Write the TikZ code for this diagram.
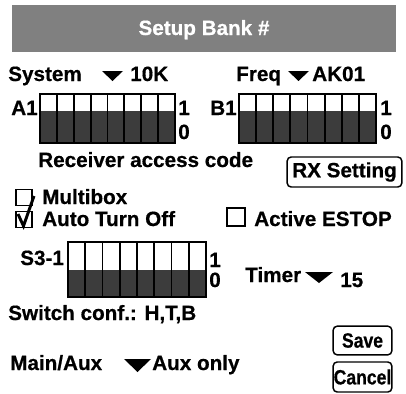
\documentclass[tikz,border=0pt]{standalone}
\usepackage{fontspec}
\setmainfont{Liberation Sans}[BoldFeatures={FakeBold=0.6}]
\newfontfamily\narrowfont{Liberation Sans}[FakeStretch=0.85, BoldFeatures={FakeBold=0.6}]
\usetikzlibrary{positioning}
\definecolor{titlegray}{HTML}{808080}
\definecolor{switchdark}{HTML}{3C3C3C}
\tikzset{
    txt/.style={font=\bfseries\fontsize{15.5}{18}\selectfont, inner sep=0pt, anchor=base west},
    button/.style={draw, rounded corners=3pt, line width=1.1pt, inner sep=0pt},
    checkbox/.style={draw, line width=0.9pt, inner sep=0pt},
    dropdown/.style={fill=black}
}
% x0, x1, top, split, bottom
\newcommand{\dipbank}[5]{%
    \foreach \i in {0,...,7} {
        \pgfmathsetmacro{\xa}{#1+\i*(#2-#1)/8}
        \pgfmathsetmacro{\xb}{#1+(\i+1)*(#2-#1)/8}
        \fill[white] (\xa,#3) rectangle (\xb,#4);
        \fill[switchdark] (\xa,#4) rectangle (\xb,#5);
        \draw[line width=1.4pt] (\xa,#3) rectangle (\xb,#5);
    }
}

\begin{document}
\begin{tikzpicture}[x=0.75pt, y=-0.75pt]
    \useasboundingbox (0,0) rectangle (406,393);
    % Title bar
    \fill[titlegray] (12,5) rectangle (396,52);
    \node[txt, anchor=base, text=white] (title) at (204,35) {Setup Bank \#};
    % System and frequency
    \node[txt] (system) at (8,81) {System};
    \fill[dropdown] (102,71) -- (123,71) -- (112.5,81) -- cycle;
    \node[txt] (sysval) at (130,81) {10K};
    \node[txt] (freq) at (236,81) {Freq};
    \fill[dropdown] (288,71) -- (309,71) -- (298.5,81) -- cycle;
    \node[txt] (freqval) at (312,81) {AK01};
    % Access code switches
    \node[txt] (a1) at (11,115) {A1};
    \dipbank{40}{175}{94}{111}{143}
    \node[txt] (a1on) at (178,115) {1};
    \node[txt] (a1off) at (178,139) {0};
    \node[txt] (b1) at (210,115) {B1};
    \dipbank{239}{376}{94}{111}{143}
    \node[txt] (b1on) at (380,115) {1};
    \node[txt] (b1off) at (380,139) {0};
    \node[txt] (access) at (38,167) {Receiver access code};
    \node[button, txt, anchor=center, minimum width=86pt, minimum height=22.5pt] (rx) at (344.5,172) {RX Setting};
    % Options
    \node[checkbox, minimum size=12pt] (multicheck) at (24,197.5) {};
    \node[txt] (multi) at (42,204) {Multibox};
    \node[checkbox, minimum size=12pt] (autocheck) at (24,219.5) {};
    \node[txt] (auto) at (42,226) {Auto Turn Off};
    \draw[line width=2.2pt] (18,214) -- (23.5,226) -- (34,196);
    \node[checkbox, minimum size=13.5pt] (estopcheck) at (236,217) {};
    \node[txt] (estop) at (254,226) {Active ESTOP};
    % S3-1 switches
    \node[txt] (s3) at (20,265) {S3-1};
    \dipbank{68}{206}{242}{270}{297}
    \node[txt] (s3on) at (209,267) {1};
    \node[txt] (s3off) at (209,287) {0};
    \node[txt] (timer) at (245,282) {Timer};
    \fill[dropdown] (305,272) -- (333,272) -- (319,283) -- cycle;
    \node[txt] (timerval) at (340,287) {15};
    \node[txt] (conf) at (8,320) {Switch conf.: H,T,B};
    % Main/Aux
    \node[txt] (mainaux) at (10,370) {Main/Aux};
    \fill[dropdown] (124,359) -- (151,359) -- (137.5,372) -- cycle;
    \node[txt] (mainauxval) at (152,370) {Aux only};
    % Buttons
    \node[button, txt, anchor=center, font=\bfseries\narrowfont\fontsize{15.5}{18}\selectfont, minimum width=44pt, minimum height=21.5pt] (save) at (362.5,340.5) {Save};
    \node[button, txt, anchor=center, font=\bfseries\narrowfont\fontsize{15.5}{18}\selectfont, minimum width=44pt, minimum height=22.5pt] (cancel) at (362.5,377) {Cancel};
\end{tikzpicture}
\end{document}
